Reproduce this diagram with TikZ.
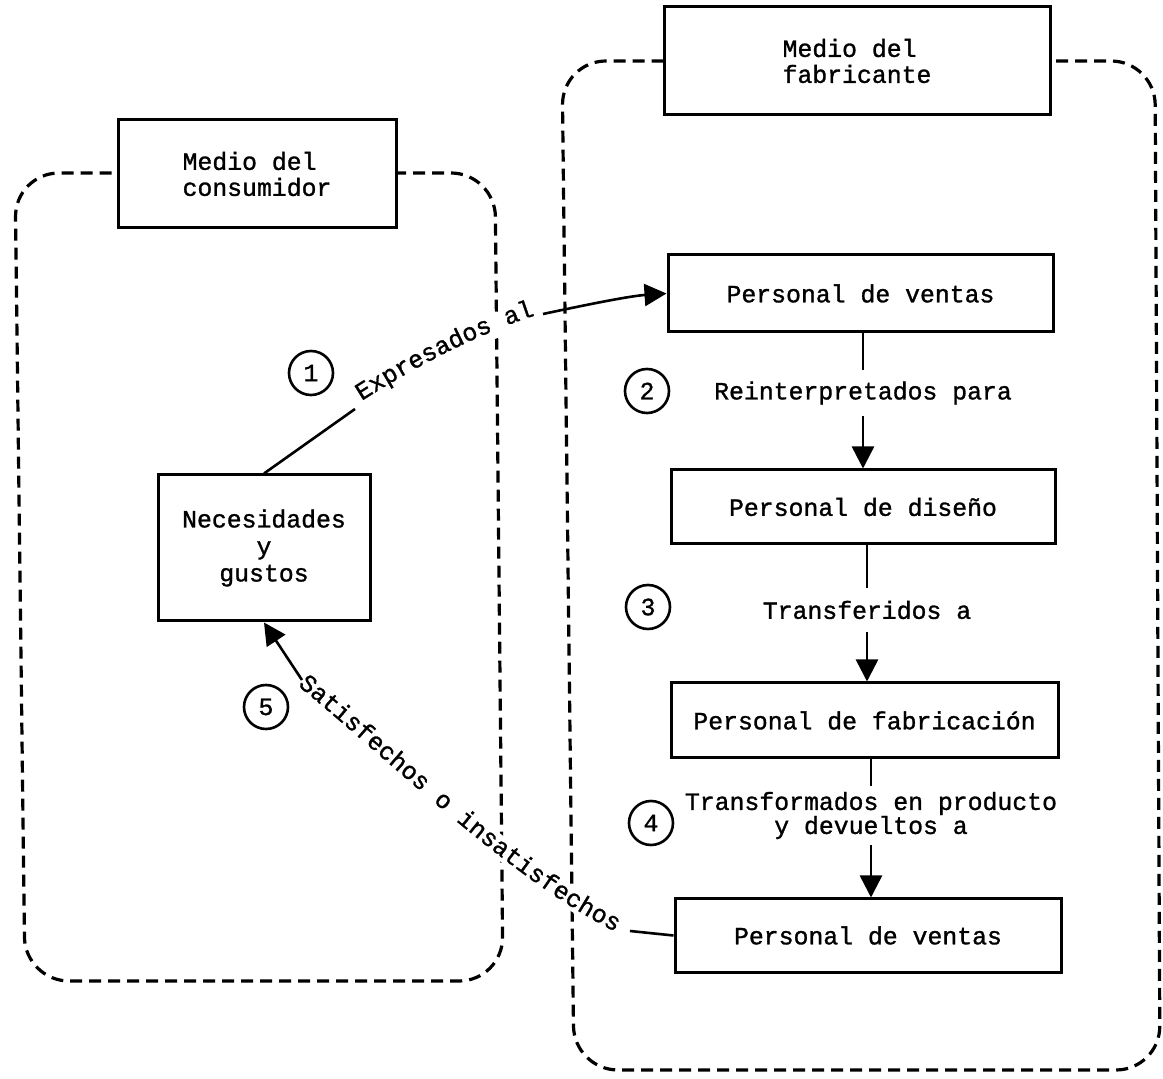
\documentclass[tikz,border=0pt]{standalone}
\usepackage{fontspec}
\setmainfont[FakeBold=1.2,BoldFont={Liberation Mono}]{Liberation Mono}
\usetikzlibrary{arrows.meta,decorations.text}
\begin{document}
\fontsize{12.4pt}{13pt}\selectfont\bfseries
\begin{tikzpicture}[x=0.5pt,y=-0.5pt,
  region/.style={draw, line width=1.6pt, dash pattern=on 6pt off 3.5pt, rounded corners=22pt},
  box/.style={draw, fill=white, line width=1.5pt, inner sep=0pt},
  num/.style={draw, circle, line width=1.3pt, minimum size=22pt, inner sep=0pt},
  lbl/.style={inner sep=5.5pt, align=center},
  link/.style={line width=1.3pt},
  arr/.style={link, -{Triangle[length=11pt,width=11pt]}},
  eraser/.style={draw=white, line width=11pt}
]
\useasboundingbox (0,0) rectangle (1163,1079);

% the two environments
\draw[region] (255,173) -- (495,173) -- (503,981) -- (25,981) -- (15,173) -- cycle;
\draw[region] (860,61) -- (1155,61) -- (1160,1070) -- (574,1070) -- (562,61) -- cycle;

% clear the dashed borders where the slanted labels cross them
\path[eraser] (363,398) .. controls (424,359) and (484,328) .. (544,309);
\path[eraser] (302,680) .. controls (400,760) and (520,880) .. (630,931);

% title boxes
\node[box, minimum width=193pt, minimum height=54pt, align=left] (fabr) at (857,61)
  {Medio del\\fabricante};
\node[box, minimum width=139pt, minimum height=54pt, align=left] (cons) at (257,174)
  {Medio del\\consumidor};

% consumer side
\node[box, minimum width=106pt, minimum height=73pt, align=center,
      font=\fontsize{12.4pt}{13.5pt}\selectfont] (neces) at (264,548)
  {Necesidades\\y\\gustos};

% manufacturer side
\node[box, minimum width=192.5pt, minimum height=38.5pt] (vent1) at (860.5,293.5) {Personal de ventas};
\node[box, minimum width=192pt, minimum height=37pt] (dis) at (863,507) {Personal de diseño};
\node[box, minimum width=193.5pt, minimum height=37.5pt] (fab) at (864.5,720.5) {Personal de fabricación};
\node[box, minimum width=193pt, minimum height=36.5pt] (vent2) at (868,935.5) {Personal de ventas};

% step labels
\node[lbl] (l2) at (863,393) {Reinterpretados para};
\node[lbl, inner sep=6pt] (l3) at (867,610) {Transferidos a};
\node[lbl, inner sep=3pt, font=\fontsize{12.4pt}{12pt}\selectfont] (l4) at (871,815.5)
  {Transformados en producto\\y devueltos a};

% numbered steps
\node[num] (n1) at (311,373) {1};
\node[num] (n2) at (647,391) {2};
\node[num] (n3) at (648,607) {3};
\node[num] (n4) at (651,823) {4};
\node[num] (n5) at (266,707) {5};

% vertical flow
\draw[link] (vent1.south -| l2) -- (l2.north);
\draw[arr] (l2.south) -- (l2.south |- dis.north);
\draw[link] (dis.south -| l3) -- (l3.north);
\draw[arr] (l3.south) -- (l3.south |- fab.north);
\draw[link] (fab.south -| l4) -- (l4.north);
\draw[arr] (l4.south) -- (l4.south |- vent2.north);

% step 1: needs expressed to sales staff
\coordinate (a1) at (355,409);
\coordinate (a2) at (543,314);
\draw[link] (neces.north) -- (a1);
\path[decorate, decoration={text along path, text={Expresados al}, text align=center, raise=1pt}]
  (359,405) .. controls (420,366) and (480,335) .. (540,316);
\draw[arr] (a2) .. controls (590,304) and (630,296) .. (vent1.west);

% step 5: back to the consumer
\coordinate (s1) at (302,680);
\coordinate (s2) at (630,931);
\draw[arr] (s1) -- (neces.south);
\path[decorate, decoration={text along path, text={Satisfechos o insatisfechos}, raise=-3.5pt}]
  (302,680) .. controls (400,760) and (520,880) .. (630,931);
\draw[link] (vent2.west) -- (s2);
\end{tikzpicture}
\end{document}
